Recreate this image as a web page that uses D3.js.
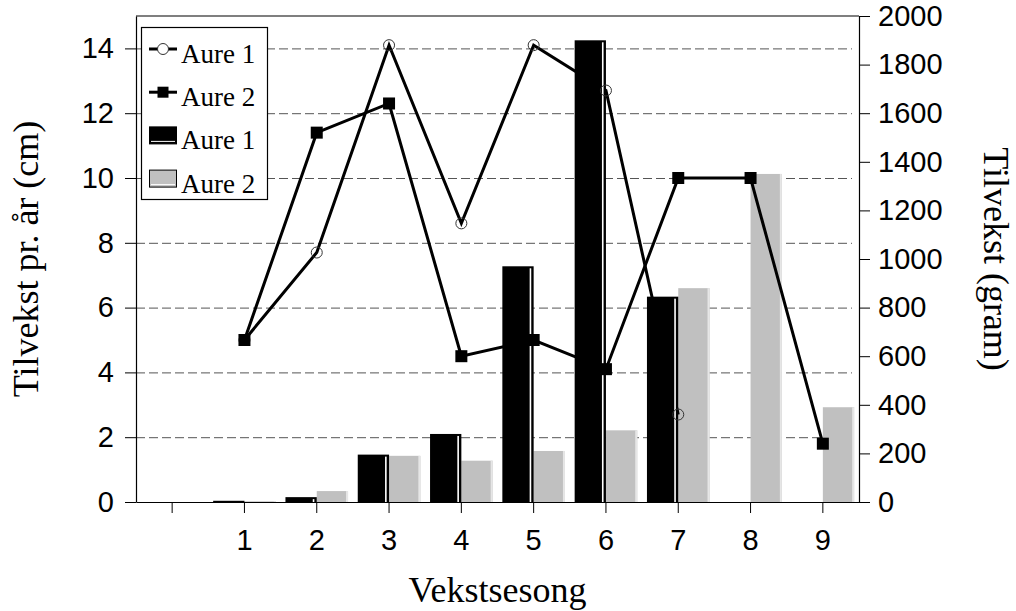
<!DOCTYPE html>
<html>
<head>
<meta charset="utf-8">
<script src="https://cdn.jsdelivr.net/npm/d3@7"></script>
<style>
  body { margin: 0; background: #fff; }
  svg { display: block; }
  .tick text { font-family: 'Liberation Sans', Arial, sans-serif; font-size: 29px; fill: #000; }
  .title { font-family: 'Liberation Serif', 'Times New Roman', serif; font-size: 36px; fill: #000; }
  .legend-text { font-family: 'Liberation Serif', 'Times New Roman', serif; font-size: 27px; fill: #000; }
</style>
</head>
<body>
<div id="chart"></div>
<script>
const seasons = ['', '1', '2', '3', '4', '5', '6', '7', '8', '9']
const lengthAure1 = [null, 5.0, 7.7, 14.1, 8.6, 14.1, 12.7, 2.7, null, null]
const lengthAure2 = [null, 5.0, 11.4, 12.3, 4.5, 5.0, 4.1, 10.0, 10.0, 1.8]
const weightAure1 = [0, 5, 20, 195, 280, 970, 1900, 845, 0, 0]
const weightAure2 = [0, 3, 45, 190, 170, 210, 295, 880, 1350, 390]
const leftTicks = [0, 2, 4, 6, 8, 10, 12, 14]
const rightTicks = [0, 200, 400, 600, 800, 1000, 1200, 1400, 1600, 1800, 2000]
const barSeries = ['Aure 1', 'Aure 2']

const width = 1016
const height = 611
const plot = { left: 136, right: 859, top: 16, bottom: 502 }

const svg = d3.select('#chart').append('svg')
  .attr('width', width)
  .attr('height', height)

const xScale = d3.scaleBand().domain(seasons).range([plot.left, plot.right]).padding(0)
const xSub = d3.scaleBand().domain(barSeries).range([0, xScale.bandwidth()]).paddingInner(0).paddingOuter(0.155)
const yLeft = d3.scaleLinear().domain([0, 15]).range([plot.bottom, plot.top])
const yRight = d3.scaleLinear().domain([0, 2000]).range([plot.bottom, plot.top])

const center = i => xScale(seasons[i]) + xScale.bandwidth() / 2

// gridlines
svg.append('g')
  .selectAll('line')
  .data(leftTicks.filter(t => t > 0))
  .enter()
  .append('line')
  .attr('x1', plot.left)
  .attr('x2', plot.right - 7)
  .attr('y1', d => yLeft(d) + 0.5)
  .attr('y2', d => yLeft(d) + 0.5)
  .attr('stroke', '#555')
  .attr('stroke-width', 1)
  .attr('stroke-dasharray', '9,4')

// gray bars (Aure 2 weight)
const grayBars = svg.append('g')
  .selectAll('g')
  .data(weightAure2.map((v, i) => ({ v, i })).filter(d => d.v > 0))
  .enter()
  .append('g')
grayBars.append('rect')
  .attr('x', d => xScale(seasons[d.i]) + xSub('Aure 2'))
  .attr('y', d => yRight(d.v))
  .attr('width', xSub.bandwidth())
  .attr('height', d => yRight(0) - yRight(d.v))
  .attr('fill', '#c0c0c0')
grayBars.append('rect')
  .attr('x', d => xScale(seasons[d.i]) + xSub('Aure 2') + xSub.bandwidth() - 2)
  .attr('y', d => yRight(d.v))
  .attr('width', 2)
  .attr('height', d => yRight(0) - yRight(d.v))
  .attr('fill', '#e6e6e6')

// lines
const lineGen = d3.line()
  .defined(d => d.v != null)
  .x(d => center(d.i))
  .y(d => yLeft(d.v))

const toPoints = arr => arr.map((v, i) => ({ v, i }))

svg.append('path')
  .datum(toPoints(lengthAure1))
  .attr('d', lineGen)
  .attr('fill', 'none')
  .attr('stroke', '#000')
  .attr('stroke-width', 3)

svg.append('path')
  .datum(toPoints(lengthAure2))
  .attr('d', lineGen)
  .attr('fill', 'none')
  .attr('stroke', '#000')
  .attr('stroke-width', 3)

// black bars (Aure 1 weight)
const blackBars = svg.append('g')
  .selectAll('g')
  .data(weightAure1.map((v, i) => ({ v, i })).filter(d => d.v > 0))
  .enter()
  .append('g')
blackBars.append('rect')
  .attr('x', d => xScale(seasons[d.i]) + xSub('Aure 1'))
  .attr('y', d => yRight(d.v))
  .attr('width', xSub.bandwidth())
  .attr('height', d => yRight(0) - yRight(d.v))
  .attr('fill', '#000')
blackBars.filter(d => yRight(0) - yRight(d.v) > 4)
  .append('rect')
  .attr('x', d => xScale(seasons[d.i]) + xSub('Aure 1') + xSub.bandwidth() - 4)
  .attr('y', d => yRight(d.v) + 2)
  .attr('width', 1.6)
  .attr('height', d => yRight(0) - yRight(d.v) - 2)
  .attr('fill', '#fff')

// markers
svg.append('g')
  .selectAll('circle')
  .data(toPoints(lengthAure1).filter(d => d.v != null))
  .enter()
  .append('circle')
  .attr('cx', d => center(d.i))
  .attr('cy', d => yLeft(d.v))
  .attr('r', 5.5)
  .attr('fill', 'none')
  .attr('stroke', '#333')
  .attr('stroke-width', 1)

svg.append('g')
  .selectAll('rect')
  .data(toPoints(lengthAure2).filter(d => d.v != null))
  .enter()
  .append('rect')
  .attr('x', d => center(d.i) - 6)
  .attr('y', d => yLeft(d.v) - 6)
  .attr('width', 12)
  .attr('height', 12)
  .attr('fill', '#000')

// axes
const styleAxis = g => {
  g.selectAll('.domain').attr('stroke', '#000').attr('stroke-width', 1.2)
  g.selectAll('.tick line').attr('stroke', '#000').attr('stroke-width', 1)
}

svg.append('g')
  .attr('transform', `translate(${plot.left},0)`)
  .call(d3.axisLeft(yLeft).tickValues(leftTicks).tickSize(11).tickSizeOuter(0).tickPadding(11))
  .call(styleAxis)

svg.append('g')
  .attr('transform', `translate(${plot.right},0)`)
  .call(d3.axisRight(yRight).tickValues(rightTicks).tickFormat(d3.format('d')).tickSize(11).tickSizeOuter(0).tickPadding(8))
  .call(styleAxis)

svg.append('g')
  .attr('transform', `translate(0,${plot.bottom})`)
  .call(d3.axisBottom(xScale).tickSize(11).tickSizeOuter(0).tickPadding(16))
  .call(styleAxis)

svg.append('line')
  .attr('x1', plot.left)
  .attr('x2', plot.right)
  .attr('y1', plot.top)
  .attr('y2', plot.top)
  .attr('stroke', '#000')
  .attr('stroke-width', 1.2)

// titles
svg.append('text')
  .attr('class', 'title')
  .attr('transform', `translate(38,${(plot.top + plot.bottom) / 2}) rotate(-90)`)
  .attr('text-anchor', 'middle')
  .text('Tilvekst pr. år (cm)')

svg.append('text')
  .attr('class', 'title')
  .attr('transform', `translate(984,${(plot.top + plot.bottom) / 2}) rotate(90)`)
  .attr('text-anchor', 'middle')
  .text('Tilvekst (gram)')

svg.append('text')
  .attr('class', 'title')
  .attr('x', (plot.left + plot.right) / 2)
  .attr('y', 602)
  .attr('text-anchor', 'middle')
  .text('Vekstsesong')

// legend
const legend = svg.append('g')
legend.append('rect')
  .attr('x', 141.5)
  .attr('y', 27.5)
  .attr('width', 126)
  .attr('height', 172)
  .attr('fill', '#fff')
  .attr('stroke', '#000')
  .attr('stroke-width', 1.2)

const legendItems = [
  { label: 'Aure 1', kind: 'circle' },
  { label: 'Aure 2', kind: 'square' },
  { label: 'Aure 1', kind: 'black' },
  { label: 'Aure 2', kind: 'gray' }
]

legendItems.forEach((item, k) => {
  const base = 63 + k * 43.2
  const cy = base - 14
  const g = legend.append('g')
  if (item.kind === 'circle' || item.kind === 'square') {
    g.append('line')
      .attr('x1', 149).attr('x2', 177)
      .attr('y1', cy).attr('y2', cy)
      .attr('stroke', '#000').attr('stroke-width', 3)
    if (item.kind === 'circle') {
      g.append('circle').attr('cx', 163).attr('cy', cy).attr('r', 5.5)
        .attr('fill', '#fff').attr('stroke', '#333')
    } else {
      g.append('rect').attr('x', 157.5).attr('y', cy - 5.5).attr('width', 11).attr('height', 11)
        .attr('fill', '#000')
    }
  } else {
    g.append('rect')
      .attr('x', 149.5).attr('y', cy - 8.5).attr('width', 27).attr('height', 17)
      .attr('fill', item.kind === 'black' ? '#000' : '#c0c0c0')
      .attr('stroke', '#000').attr('stroke-width', 1)
    g.append('line')
      .attr('x1', 151).attr('x2', 175)
      .attr('y1', cy + 6).attr('y2', cy + 6)
      .attr('stroke', '#fff').attr('stroke-width', 1)
  }
  g.append('text')
    .attr('class', 'legend-text')
    .attr('x', 181)
    .attr('y', base)
    .text(item.label)
})
</script>
</body>
</html>
